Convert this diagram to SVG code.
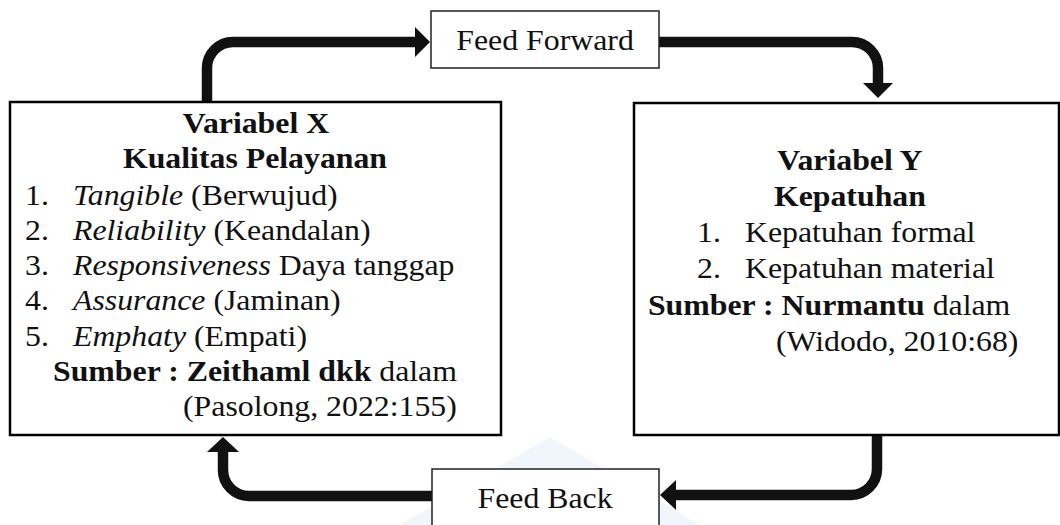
<svg xmlns="http://www.w3.org/2000/svg" width="1060" height="525" viewBox="0 0 1060 525">
<style>
.t{font-family:"Liberation Serif","Times New Roman",serif;font-size:28.5px;fill:#111}
.b{font-weight:bold}
.i{font-style:italic}
.m{text-anchor:middle}
.box{fill:#fff;stroke:#000;stroke-width:2.5}
.lab{fill:#fff;stroke:#222;stroke-width:1.5}
.arr{fill:none;stroke:#111;stroke-width:10.5}
.head{fill:#111}
</style>
<polygon points="550,437 400,525 700,525" fill="#e3eef9" opacity="0.55"/>
<g id="connectors">
<path class="arr" d="M207,105 V68 A26,26 0 0 1 233,42 H417"/>
<polygon class="head" points="415,27 430,42 415,57"/>
<path class="arr" d="M659,42 H852 A26,26 0 0 1 878,68 V85"/>
<polygon class="head" points="863,83 893,83 878,98"/>
<path class="arr" d="M877,435 V469 A26,26 0 0 1 851,495 H674"/>
<polygon class="head" points="676,480 676,510 660,495"/>
<path class="arr" d="M432,496 H249 A26,26 0 0 1 223,470 V450"/>
<polygon class="head" points="207,452 239,452 223,437"/>
</g>
<g id="variabel-x">
<rect class="box" x="10" y="102" width="491" height="333"/>
<text class="t b m" transform="scale(1.116 1)" x="229.4" y="133">Variabel X</text>
<text class="t b m" transform="scale(1.116 1)" x="228.5" y="168">Kualitas Pelayanan</text>
<text class="t" transform="scale(1.116 1)" x="22.4" y="205">1.</text>
<text class="t" transform="scale(1.116 1)" x="65.4" y="205"><tspan class="i">Tangible</tspan> (Berwujud)</text>
<text class="t" transform="scale(1.116 1)" x="22.4" y="240">2.</text>
<text class="t" transform="scale(1.116 1)" x="65.4" y="240"><tspan class="i">Reliability</tspan> (Keandalan)</text>
<text class="t" transform="scale(1.116 1)" x="22.4" y="275">3.</text>
<text class="t" transform="scale(1.116 1)" x="65.4" y="275"><tspan class="i">Responsiveness</tspan> Daya tanggap</text>
<text class="t" transform="scale(1.116 1)" x="22.4" y="310">4.</text>
<text class="t" transform="scale(1.116 1)" x="65.4" y="310"><tspan class="i">Assurance</tspan> (Jaminan)</text>
<text class="t" transform="scale(1.116 1)" x="22.4" y="346">5.</text>
<text class="t" transform="scale(1.116 1)" x="65.4" y="346"><tspan class="i">Emphaty</tspan> (Empati)</text>
<text class="t" transform="scale(1.116 1)" x="47.5" y="381"><tspan class="b">Sumber : Zeithaml dkk</tspan> dalam</text>
<text class="t" transform="scale(1.116 1)" x="164" y="416">(Pasolong, 2022:155)</text>
</g>
<g id="variabel-y">
<rect class="box" x="634" y="103" width="425" height="332"/>
<text class="t b m" transform="scale(1.116 1)" x="761.6" y="170">Variabel Y</text>
<text class="t b m" transform="scale(1.116 1)" x="761.6" y="206">Kepatuhan</text>
<text class="t" transform="scale(1.116 1)" x="624.6" y="242">1.</text>
<text class="t" transform="scale(1.116 1)" x="667.6" y="242">Kepatuhan formal</text>
<text class="t" transform="scale(1.116 1)" x="624.6" y="278">2.</text>
<text class="t" transform="scale(1.116 1)" x="667.6" y="278">Kepatuhan material</text>
<text class="t" transform="scale(1.116 1)" x="580.6" y="315"><tspan class="b">Sumber : Nurmantu</tspan> dalam</text>
<text class="t" transform="scale(1.116 1)" x="695.3" y="351">(Widodo, 2010:68)</text>
</g>
<g id="feed-forward">
<rect class="lab" x="431" y="11" width="228" height="57"/>
<text class="t m" transform="scale(1.116 1)" x="488.4" y="50">Feed Forward</text>
</g>
<g id="feed-back">
<rect class="lab" x="432" y="469" width="227" height="60"/>
<text class="t m" transform="scale(1.116 1)" x="488.4" y="508">Feed Back</text>
</g>
</svg>
